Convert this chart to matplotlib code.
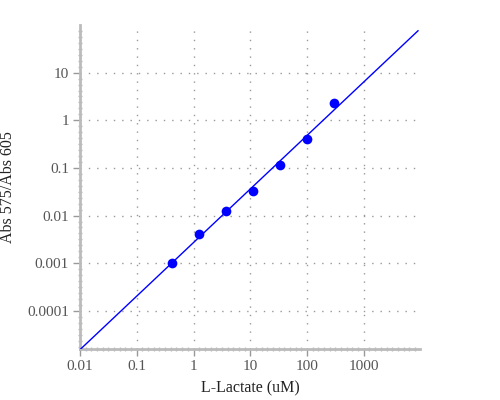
import numpy as np
import matplotlib
matplotlib.use("Agg")
import matplotlib.pyplot as plt
from matplotlib.ticker import FixedLocator, FixedFormatter, NullFormatter

# Data
lactate_um = [0.4115, 1.235, 3.704, 11.11, 33.33, 100.0, 300.0]
abs_ratio = [0.00100, 0.0041, 0.0127, 0.0335, 0.116, 0.40, 2.28]
x_ticks = [0.01, 0.1, 1, 10, 100, 1000]
x_ticklabels = ["0.01", "0.1", "1", "10", "100", "1000"]
y_ticks = [0.0001, 0.001, 0.01, 0.1, 1, 10]
y_ticklabels = ["0.0001", "0.001", "0.01", "0.1", "1", "10"]
x_label = "L-Lactate (uM)"
y_label = "Abs 575/Abs 605"

plt.rcParams['font.family'] = ['Liberation Serif', 'DejaVu Serif']

fig = plt.figure(figsize=(5, 4), dpi=100)
ax = fig.add_axes([0.16, 0.1275, 0.68, 0.81])

xlim = (0.01, 10 ** 3.99)
ylim = (10 ** -4.8, 10 ** 2.0)

# power-law fit line
coef = np.polyfit(np.log10(lactate_um), np.log10(abs_ratio), 1)
xl = np.logspace(np.log10(xlim[0]), np.log10(xlim[1]) - 0.035, 200)
yl = 10 ** np.polyval(coef, np.log10(xl))
ax.plot(xl, yl, color='#0000ff', lw=1.0, zorder=3)
ax.plot(lactate_um, abs_ratio, 'o', color='#0000ff', markersize=7, markeredgewidth=0, zorder=4)

ax.set_xscale('log')
ax.set_yscale('log')
ax.set_xlim(*xlim)
ax.set_ylim(*ylim)

ax.xaxis.set_major_locator(FixedLocator(x_ticks))
ax.xaxis.set_major_formatter(FixedFormatter(x_ticklabels))
ax.yaxis.set_major_locator(FixedLocator(y_ticks))
ax.yaxis.set_major_formatter(FixedFormatter(y_ticklabels))

# evenly spaced (in log) minor ticks
xminor = [10 ** (k / 10) for k in range(-20, 40) if k % 10 != 0]
yminor = [10 ** (k / 8) for k in range(-38, 16) if k % 8 != 0]
ax.xaxis.set_minor_locator(FixedLocator(xminor))
ax.yaxis.set_minor_locator(FixedLocator(yminor))
ax.xaxis.set_minor_formatter(NullFormatter())
ax.yaxis.set_minor_formatter(NullFormatter())

for s in ['top', 'right']:
    ax.spines[s].set_visible(False)
for s in ['left', 'bottom']:
    ax.spines[s].set_color('#bbbbbb')
    ax.spines[s].set_linewidth(2.0)

ax.tick_params(which='major', length=5, width=1, color='#999999', labelcolor='#555555', labelsize=11, pad=3)
ax.tick_params(which='minor', length=3, width=1, color='#bbbbbb', direction='inout')

ax.grid(True, which='major', linestyle=(0, (1, 5)), color='#999999', linewidth=1)

ax.set_xlabel(x_label, fontsize=11.5, color='#222222', labelpad=5)
ax.set_ylabel(y_label, fontsize=11.5, color='#222222', labelpad=8)

fig.savefig('out.png', dpi=100)
